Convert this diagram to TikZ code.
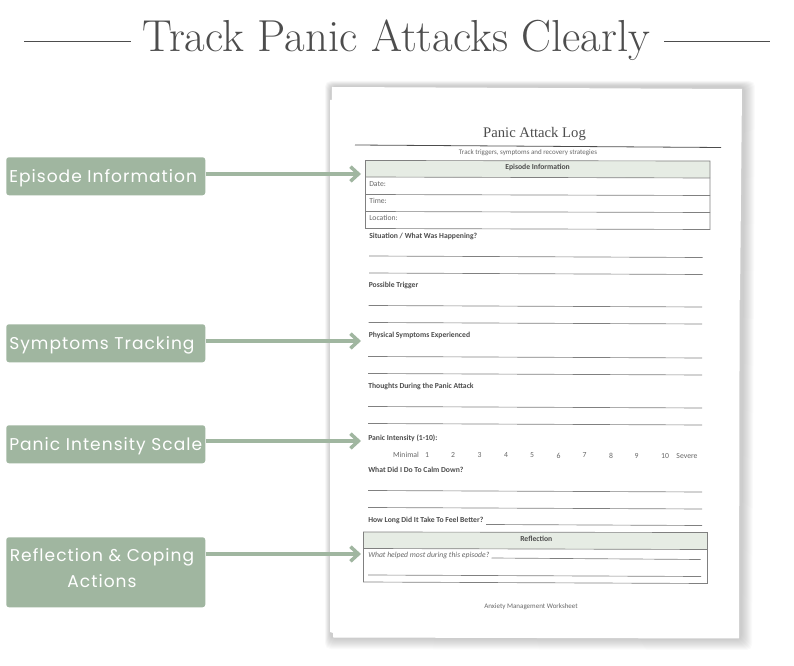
\documentclass[tikz,border=0pt]{standalone}
\usepackage{fontspec}
\setmainfont{Latin Modern Roman}
\newfontfamily\labfont[LetterSpace=6]{Poppins}
\newfontfamily\docfont{Carlito}
\newfontfamily\logfont{Liberation Serif}
\usetikzlibrary{arrows.meta}
\definecolor{sage}{HTML}{A0B6A0}
\definecolor{hdr}{HTML}{E6ECE4}
\definecolor{ink}{HTML}{4D4D4D}
\definecolor{rule}{HTML}{808080}
\tikzset{
  tag/.style={fill=sage,rounded corners=2pt,inner sep=0pt,anchor=north west},
  tagtext/.style={text=white,inner sep=0pt,font=\labfont\fontsize{12.8}{19.5}\selectfont},
  tagarrow/.style={draw=sage,line width=2.6pt,-{Straight Barb[length=6pt,width=11pt,line width=2.6pt]}},
  wline/.style={draw=rule,line width=0.5pt},
  tbl/.style={draw=rule,line width=0.5pt},
  bold/.style={anchor=west,inner sep=0pt,text=ink,font=\docfont\bfseries\fontsize{5.75}{7}\selectfont},
  plain/.style={anchor=west,inner sep=0pt,text=ink!85,font=\docfont\fontsize{5.75}{7}\selectfont},
  num/.style={inner sep=0pt,text=ink!85,font=\docfont\fontsize{5.8}{7}\selectfont},
}
\begin{document}
\begin{tikzpicture}[x=0.75pt,y=-0.75pt]
\useasboundingbox (0,0) rectangle (794,666);
% title
\node[inner sep=0pt,text=ink,font=\fontsize{33.6}{40}\selectfont] (title) at (396.5,40.5) {Track Panic Attacks Clearly};
\coordinate (tl1) at (24,41); \coordinate (tl2) at (131,41);
\coordinate (tr1) at (664,41); \coordinate (tr2) at (770,41);
\draw[ink,line width=0.55pt] (tl1) -- (tl2);
\draw[ink,line width=0.55pt] (tr1) -- (tr2);
% page shadow
\foreach \g in {10,9,8,7,6,5,4,3,2,1,0}{
  \fill[black,opacity=0.018,rounded corners=4pt] (330-\g*0.5,86-\g*0.5) -- (745+\g,86-\g*0.5) -- (742+\g,640+\g) -- (330-\g*0.5,639+\g) -- cycle;
}
% second sheet and page
\fill[white] (330,100) -- (740,100) -- (739,638.5) -- (333,637.5) -- (333,633) -- (330,632) -- cycle;
\fill[white] (332,87) -- (742,89) -- (740,300) -- (330.5,300) -- cycle;
% log header
\node[inner sep=0pt,text=ink,font=\logfont\fontsize{11}{13}\selectfont] (log) at (534.5,133.5) {Panic Attack Log};
\draw[ink,line width=0.6pt] (355,145) -- (721,147.5);
\node[inner sep=0pt,text=ink!85,font=\docfont\fontsize{5.25}{6}\selectfont] (sub) at (528,153) {Track triggers, symptoms and recovery strategies};
% episode table
\fill[hdr] (365.5,160.5) -- (710,161) -- (710,178) -- (365.5,177) -- cycle;
\draw[tbl] (365.5,160.5) -- (710,161) -- (710,229.5) -- (365.5,228.5) -- cycle;
\draw[tbl] (365.5,177) -- (710,178);
\draw[tbl] (365.5,194.5) -- (710,195.5);
\draw[tbl] (365.5,211.5) -- (710,212.5);
\node[bold] (eh) at (505,167.5) {Episode Information};
\node[plain] (d) at (369,184) {Date:};
\node[plain] (t) at (369,201) {Time:};
\node[plain] (l) at (369,218) {Location:};
% questions
\node[bold] (q1) at (369,236) {Situation / What Was Happening?};
\draw[wline] (369,256) -- (702.5,257.5);
\draw[wline] (369,273) -- (702.5,274.5);
\node[bold] (q2) at (368.5,285) {Possible Trigger};
\draw[wline] (368.5,305.5) -- (702,307);
\draw[wline] (368.5,322.5) -- (702,324);
\node[bold] (q3) at (368.5,335.5) {Physical Symptoms Experienced};
\draw[wline] (368,356.5) -- (702,358);
\draw[wline] (368,373.5) -- (702,375);
\node[bold] (q4) at (368,386) {Thoughts During the Panic Attack};
\draw[wline] (368,406.5) -- (702,408);
\draw[wline] (368,423.5) -- (702,425);
\node[bold] (q5) at (368,438) {Panic Intensity (1-10):};
\node[num] (smin) at (406,455) {Minimal};
\node[num] (s1) at (427,455) {1};
\node[num] (s2) at (453,455) {2};
\node[num] (s3) at (479.5,455) {3};
\node[num] (s4) at (506,455.5) {4};
\node[num] (s5) at (532,455.5) {5};
\node[num] (s6) at (558.5,455.5) {6};
\node[num] (s7) at (584.5,455.5) {7};
\node[num] (s8) at (611,455.5) {8};
\node[num] (s9) at (636.5,455.5) {9};
\node[num] (s10) at (665,456) {10};
\node[num] (ssev) at (687,456) {Severe};
\node[bold] (q6) at (368,470) {What Did I Do To Calm Down?};
\draw[wline] (368,490.5) -- (702,492);
\draw[wline] (368,507.5) -- (702,509);
\node[bold] (q7) at (368,520.5) {How Long Did It Take To Feel Better?};
\draw[wline] (486,524.5) -- (702,525.5);
% reflection table
\fill[hdr] (363.5,532) -- (707.5,532.5) -- (707.5,549.5) -- (363.5,548.5) -- cycle;
\draw[tbl] (363.5,532) -- (707.5,532.5) -- (707.5,583.5) -- (363.5,582) -- cycle;
\draw[tbl] (363.5,548.5) -- (707.5,549.5);
\node[bold] (rh) at (520,538.5) {Reflection};
\node[plain,font=\docfont\itshape\fontsize{5.75}{7}\selectfont] (q8) at (368,555) {What helped most during this episode?};
\draw[wline] (491.5,558) -- (700.5,559.5);
\draw[wline] (368,575) -- (701,576.5);
\node[inner sep=0pt,text=ink!85,font=\docfont\fontsize{5.25}{6}\selectfont] (foot) at (531,607) {Anxiety Management Worksheet};
% tags
\node[tag,minimum width=149.25pt,minimum height=28.5pt] (a) at (6,157) {};
\node[tagtext,anchor=west] (at) at (9,178.5) {Episode Information};
\node[tag,minimum width=149.25pt,minimum height=28.5pt] (b) at (6,324) {};
\node[tagtext,anchor=west] (bt) at (9,345.5) {Symptoms Tracking};
\node[tag,minimum width=149.25pt,minimum height=28.5pt] (c) at (6,425) {};
\node[tagtext,anchor=west] (ct) at (9,446) {Panic Intensity Scale};
\node[tag,minimum width=149.25pt,minimum height=52.5pt] (e) at (6,537) {};
\node[tagtext,align=center] (et) at (102,568) {Reflection \& Coping\\Actions};
% arrows
\coordinate (ae) at (361,174); \coordinate (be) at (361,341);
\coordinate (ce) at (361,441); \coordinate (ee) at (361,554);
\draw[tagarrow] (a.east |- ae) -- (ae);
\draw[tagarrow] (b.east |- be) -- (be);
\draw[tagarrow] (c.east |- ce) -- (ce);
\draw[tagarrow] (e.east |- ee) -- (ee);
\end{tikzpicture}
\end{document}
